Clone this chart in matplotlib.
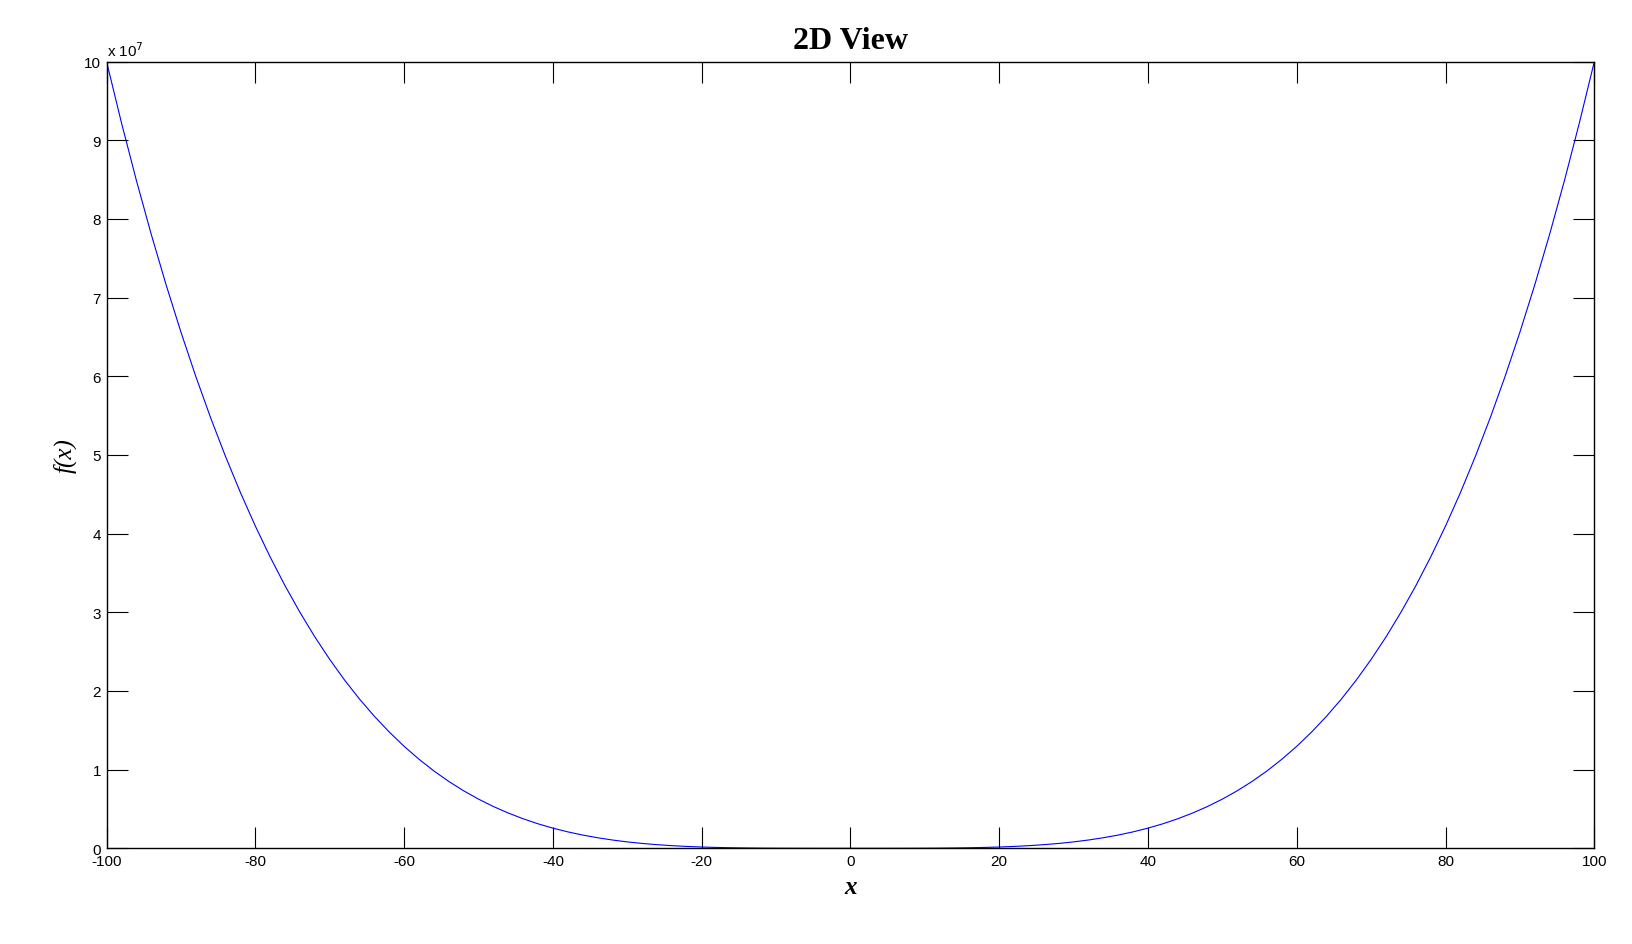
import matplotlib.pyplot as plt
import numpy as np

# right half of the curve, f in units of 1e7, x = 0..100 step 2
x_half = list(range(0, 101, 2))
f_half = [0.0, 0.0, 0.0, 0.0001, 0.0004, 0.001, 0.002, 0.004, 0.0066, 0.0105,
          0.016, 0.0234, 0.0332, 0.0457, 0.0615, 0.081, 0.105, 0.134, 0.168, 0.2085,
          0.256, 0.311, 0.375, 0.448, 0.531, 0.625, 0.731, 0.850, 0.983, 1.132,
          1.296, 1.478, 1.678, 1.897, 2.138, 2.401, 2.687, 2.999, 3.336, 3.702,
          4.096, 4.521, 4.979, 5.470, 5.997, 6.561, 7.164, 7.807, 8.493, 9.224, 10.0]
# curve is symmetric about x = 0
x_vals = [-x for x in x_half[::-1]] + x_half[1:]
f_vals = f_half[::-1] + f_half[1:]
y_ticks = [0, 1, 2, 3, 4, 5, 6, 7, 8, 9, 10]
x_ticks = [-100, -80, -60, -40, -20, 0, 20, 40, 60, 80, 100]

fig = plt.figure(figsize=(16.32, 9.45), dpi=100)
ax = fig.add_axes([0.0653, 0.1013, 0.9116, 0.8324])

ax.plot(x_vals, np.array(f_vals) * 1e7, color='blue', lw=0.8)

ax.set_xlim(-100, 100)
ax.set_ylim(0, 1e8)
ax.set_xticks(x_ticks)
ax.set_xticklabels([str(t) for t in x_ticks], fontfamily='Liberation Sans', fontsize=11)
ax.set_yticks([t * 1e7 for t in y_ticks])
ax.set_yticklabels([str(t) for t in y_ticks], fontfamily='Liberation Sans', fontsize=11)
ax.tick_params(direction='in', length=15, width=0.8, top=True, right=True, pad=4)
for s in ax.spines.values():
    s.set_linewidth(1.0)

ax.text(0.0, 1.004, r'x 10$^{7}$', transform=ax.transAxes, fontsize=11,
        fontfamily='Liberation Sans', ha='left', va='bottom')

ax.set_title('2D View', fontfamily='Liberation Serif', fontweight='bold', fontsize=23, pad=10)
ax.set_xlabel('x', fontfamily='Liberation Serif', fontstyle='italic', fontweight='bold',
              fontsize=18, labelpad=5)
ax.set_ylabel('f(x)', fontfamily='Liberation Serif', fontstyle='italic', fontsize=18, labelpad=5)

fig.savefig('out.png', dpi=100)
